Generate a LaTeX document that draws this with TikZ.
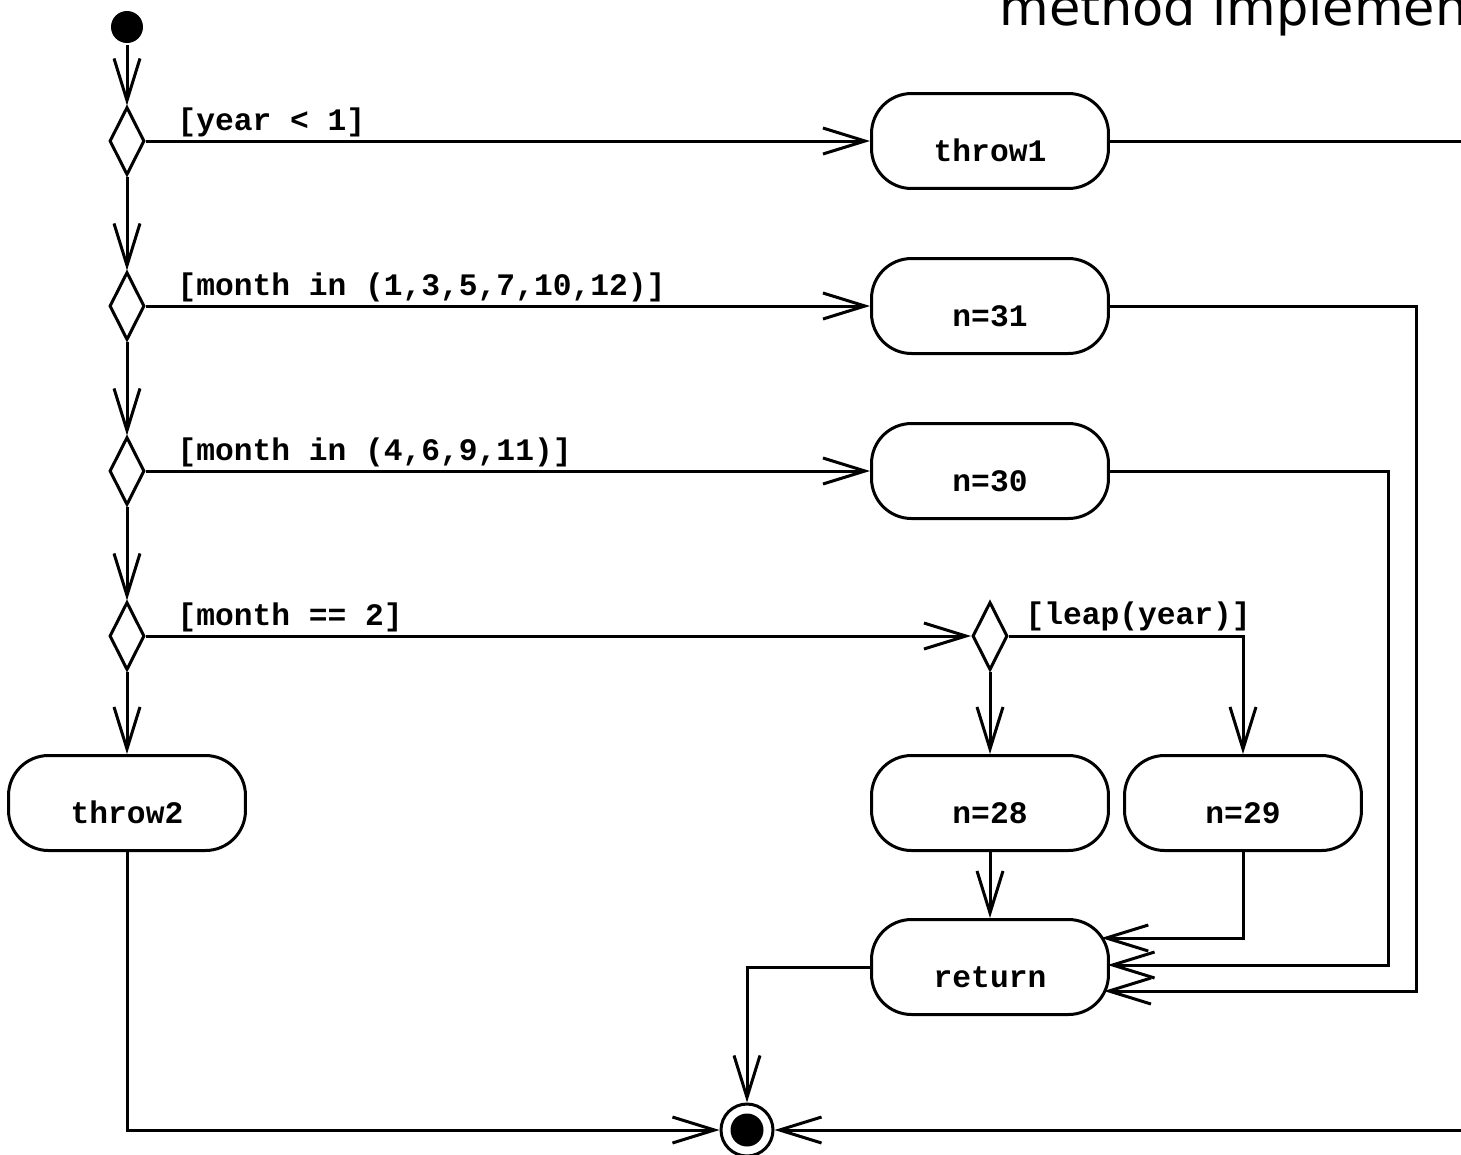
\documentclass[tikz,border=0pt]{standalone}
\usepackage{fontspec}
\usetikzlibrary{shapes.geometric,arrows.meta,calc}
\newfontfamily\codefam{Liberation Mono}
\newfontfamily\headfam{DejaVu Sans}
\newcommand\codefont{\codefam\bfseries\fontsize{17.8}{20}\selectfont}
\newcommand\headfont{\headfam\fontsize{29}{34}\selectfont}
\tikzset{
  act/.style={draw, rounded corners=0.8cm, minimum width=4.74cm, minimum height=1.9cm,
              inner sep=0pt, text height=0.82cm, text depth=0pt, font=\codefont},
  dec/.style={diamond, draw, minimum width=0.7cm, minimum height=1.36cm, inner sep=0pt},
  flow/.style={-{Straight Barb[length=0.84cm,width=0.52cm]}},
  guard/.style={anchor=base west, inner sep=0pt, font=\codefont},
}
\begin{document}
\begin{tikzpicture}[x=0.02cm, y=-0.02cm, line width=0.06cm, line join=miter]
  \useasboundingbox (0,0) rectangle (1461,1154);
  \clip (0,0) rectangle (1461,1154);

  % heading
  \node[anchor=base west, inner sep=0pt, font=\headfont] (head) at (998,25) {method implementation};

  % start and end
  \node[circle, fill, minimum size=0.64cm, inner sep=0pt] (init) at (127,27) {};
  \node[circle, draw, minimum size=1.04cm, inner sep=0pt] (fin) at (747,1130) {};
  \node[circle, fill, minimum size=0.66cm, inner sep=0pt] (fincore) at (fin.center) {};

  % decisions
  \node[dec] (d1) at (127,141) {};
  \node[dec] (d2) at (127,306) {};
  \node[dec] (d3) at (127,471) {};
  \node[dec] (d4) at (127,636) {};
  \node[dec] (leap) at (990,636) {};

  % actions
  \node[act] (throw1) at (990,141) {throw1};
  \node[act] (n31) at (990,306) {n=31};
  \node[act] (n30) at (990,471) {n=30};
  \node[act] (n28) at (990,803) {n=28};
  \node[act] (n29) at (1243,803) {n=29};
  \node[act] (throw2) at (127,803) {throw2};
  \node[act] (return) at (990,967) {return};

  % guards
  \node[guard] (g1) at (176,130) {[year < 1]};
  \node[guard] (g2) at (176,295) {[month in (1,3,5,7,10,12)]};
  \node[guard] (g3) at (176,460) {[month in (4,6,9,11)]};
  \node[guard] (g4) at (176,625) {[month == 2]};
  \node[guard] (g5) at (1024,624) {[leap(year)]};

  % points where the side flows meet the return action
  \coordinate (retA) at ($(return.center)+(111.2,-29)$);
  \coordinate (retB) at ($(return.center)+(117.5,-2)$);
  \coordinate (retC) at ($(return.center)+(113.9,24)$);
  \coordinate (b30) at (1388,965);
  \coordinate (b31) at (1416,991);
  \coordinate (farBot) at (1520,1130);

  % main chain
  \draw[flow] (init) -- (d1.north);
  \draw[flow] (d1.south) -- (d2.north);
  \draw[flow] (d2.south) -- (d3.north);
  \draw[flow] (d3.south) -- (d4.north);
  \draw[flow] (d4.south) -- (throw2.north);

  % branches
  \draw[flow] (d1.east) -- (throw1.west);
  \draw[flow] (d2.east) -- (n31.west);
  \draw[flow] (d3.east) -- (n30.west);
  \draw[flow] (d4.east) -- (leap.west);
  \draw[flow] (leap.south) -- (n28.north);
  \draw[flow] (leap.east) -| (n29.north);

  % merging into return
  \draw[flow] (n28.south) -- (return.north);
  \draw[flow] (n29.south) |- (retA);
  \draw[flow] (n30.east) -| (b30) -- (retB);
  \draw[flow] (n31.east) -| (b31) -- (retC);

  % to the final node
  \draw[flow] (return.west) -| (fin.north);
  \draw[flow] (throw2.south) |- (fin.west);
  \draw[flow] (throw1.east) -| (farBot) -- (fin.east);
\end{tikzpicture}
\end{document}
